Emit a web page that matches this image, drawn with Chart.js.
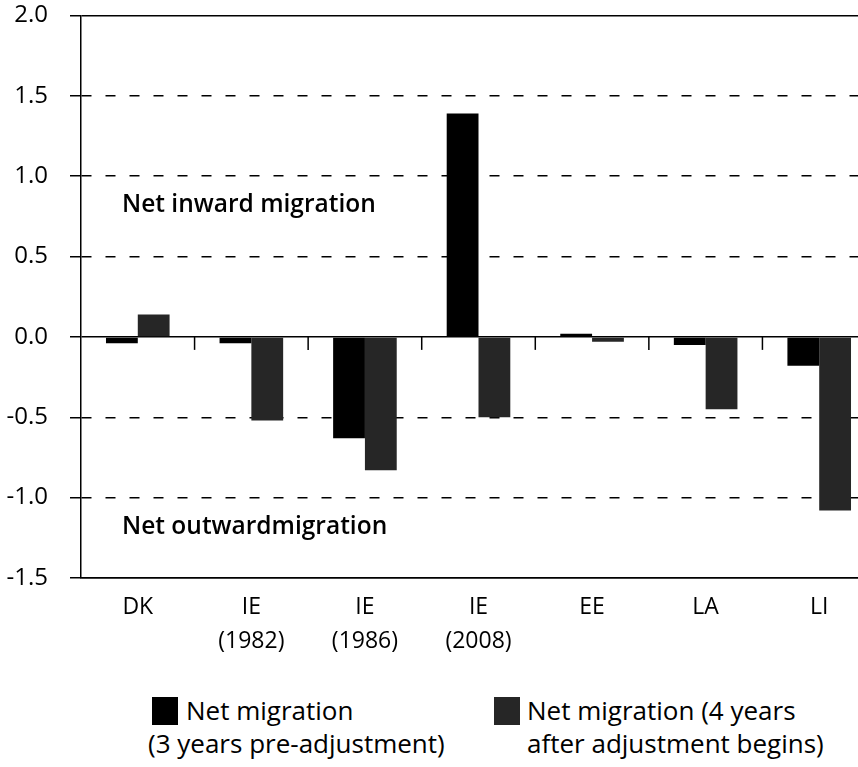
<!DOCTYPE html>
<html>
<head>
<meta charset="utf-8">
<script src="https://cdn.jsdelivr.net/npm/chart.js@4"></script>
<style>
  html, body { margin:0; padding:0; background:#fff; overflow:hidden; width:858px; height:767px; }
  #wrap { position:absolute; left:0; top:-21px; width:876px; height:684px; }
  .leg { position:absolute; font-family:"Open Sans", sans-serif; font-size:26px; color:#000; line-height:33px; white-space:nowrap; }
  .sw { position:absolute; width:26px; height:28px; }
</style>
</head>
<body>
<div id="wrap"><canvas id="c"></canvas></div>
<div class="sw" id="sw1" style="left:152px; top:697px; background:#000;"></div>
<div class="leg" id="l1a" style="left:186px; top:694px;"></div>
<div class="leg" id="l1b" style="left:148px; top:727px;"></div>
<div class="sw" id="sw2" style="left:494px; top:697px; background:#262626;"></div>
<div class="leg" id="l2a" style="left:527px; top:694px;"></div>
<div class="leg" id="l2b" style="left:527px; top:727px;"></div>
<script>
const categories = [["DK"], ["IE", "(1982)"], ["IE", "(1986)"], ["IE", "(2008)"], ["EE"], ["LA"], ["LI"]];
const preAdjustment = [-0.04, -0.04, -0.63, 1.39, 0.02, -0.05, -0.18];
const postAdjustment = [0.14, -0.52, -0.83, -0.50, -0.03, -0.45, -1.08];
const seriesLabels = [["Net migration", "(3 years pre-adjustment)"], ["Net migration (4 years", "after adjustment begins)"]];
const yTicks = [2.0, 1.5, 1.0, 0.5, 0.0, -0.5, -1.0, -1.5];
const annotations = [{text: "Net inward migration", value: 0.82}, {text: "Net outwardmigration", value: -1.18}];

document.getElementById('l1a').textContent = seriesLabels[0][0];
document.getElementById('l1b').textContent = seriesLabels[0][1];
document.getElementById('l2a').textContent = seriesLabels[1][0];
document.getElementById('l2b').textContent = seriesLabels[1][1];

const FONT = "'Open Sans', sans-serif";

const extras = {
  id: 'extras',
  afterDatasetsDraw(chart) {
    const ctx = chart.ctx, x = chart.scales.x, y = chart.scales.y;
    const y0 = y.getPixelForValue(0);
    ctx.save();
    ctx.strokeStyle = '#000';
    ctx.lineWidth = 1.5;
    for (let i = 1; i < categories.length; i++) {
      const bx = (x.getPixelForTick(i - 1) + x.getPixelForTick(i)) / 2;
      ctx.beginPath(); ctx.moveTo(bx, y0); ctx.lineTo(bx, y0 + 13); ctx.stroke();
    }
    ctx.fillStyle = '#000';
    ctx.font = "600 24.5px " + FONT;
    ctx.textBaseline = 'middle';
    ctx.textAlign = 'left';
    annotations.forEach(a => ctx.fillText(a.text, 122, y.getPixelForValue(a.value)));
    ctx.restore();
  }
};

new Chart(document.getElementById('c'), {
  type: 'bar',
  data: {
    labels: categories,
    datasets: [
      { label: seriesLabels[0].join(' '), data: preAdjustment, backgroundColor: '#000', barPercentage: 1.0, categoryPercentage: 0.56 },
      { label: seriesLabels[1].join(' '), data: postAdjustment, backgroundColor: '#262626', barPercentage: 1.0, categoryPercentage: 0.56 }
    ]
  },
  options: {
    responsive: true,
    maintainAspectRatio: false,
    animation: false,
    layout: { padding: { top: 4, right: 0, left: 0, bottom: 0 } },
    plugins: { legend: { display: false }, tooltip: { enabled: false } },
    scales: {
      x: {
        grid: { display: false },
        border: { display: true, color: '#000', width: 1.5 },
        ticks: { color: '#000', font: { family: FONT, size: 23, lineHeight: 1.5 }, padding: 4, maxRotation: 0 }
      },
      y: {
        min: -1.5, max: 2.0,
        afterFit(s) { s.width = 81; },
        afterBuildTicks(s) { s.ticks = yTicks.map(v => ({ value: v })); },
        ticks: { color: '#000', font: { family: FONT, size: 24 }, padding: 22, callback: v => Number(v).toFixed(1) },
        grid: { color: '#000', lineWidth: 1.5, tickLength: 11, drawTicks: true },
        border: { display: true, color: '#000', width: 1.5, dash: ctx => ([2, 0, -1.5].includes(ctx.tick && ctx.tick.value) ? [] : [10, 14]) }
      }
    }
  },
  plugins: [extras]
});
</script>
</body>
</html>
